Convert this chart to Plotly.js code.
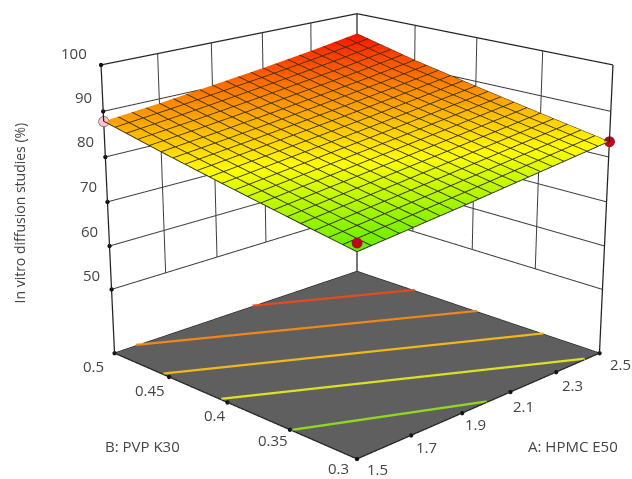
<!DOCTYPE html>
<html><head><meta charset="utf-8">
<script src="https://cdn.plot.ly/plotly-3.0.1.min.js"></script>
<style>html,body{margin:0;padding:0;background:#fff;overflow:hidden}#c{width:632px;height:479px}</style>
</head><body><div id="c"></div>
<script>
const hpmc=[1.5,1.7,1.9,2.1,2.3,2.5];
const pvp=[0.3,0.35,0.4,0.45,0.5];
const response=[
 [77.1,78.3,79.5,80.8,82.1,83.4],
 [79.6,80.9,82.2,83.5,84.8,86.1],
 [82.2,83.5,84.8,86.1,87.5,88.9],
 [84.9,86.1,87.4,88.8,90.2,91.8],
 [87.8,89.0,90.4,91.8,93.4,95.2]];
const zTicks=[50,60,70,80,90,100];
const zFloor=35, zTop=100, zLevel=35.2;
const designA=[1.5,2.5,1.5];
const designB=[0.5,0.3,0.3];
const designZ=[87.8,83.4,78.9];
const designColors=['#f7c3cf','#c4001a','#c4001a'];
const contourLines=[
 {a:[1.5,2.0],b:[0.348,0.3],color:'#8fd81e'},
 {a:[1.5,2.43],b:[0.405,0.3],color:'#dfe020'},
 {a:[1.5,2.5],b:[0.455,0.342],color:'#f0b818'},
 {a:[1.58,2.5],b:[0.5,0.395],color:'#f08818'},
 {a:[2.04,2.5],b:[0.5,0.448],color:'#e84a18'}];
const aLabels=['1.5','1.7','1.9','2.1','2.3','2.5'];
const bLabels=['0.3','0.35','0.4','0.45','0.5'];
const zLabels=['50','60','70','80','90','100'];
const aShiftX=[20,15,13,13,16,21];
const aShiftY=[-10,-12,-11,-14,-13,-11];
const bShiftX=[-19,-17,-13,-19,-21];
const bShiftY=[-9,-10,-13,-13,-13];
const zShiftX=[-20,-20,-19,-20,-20,-27];
const zShiftY=[14,15,16,16,14,12];
const aMin=1.5,aMax=2.5,bMin=0.3,bMax=0.5;

function seg(list){const x=[],y=[],z=[];list.forEach(s=>{x.push(s[0],s[3],null);y.push(s[1],s[4],null);z.push(s[2],s[5],null)});return {x,y,z};}
const gridSegs=[];
hpmc.forEach(a=>gridSegs.push([a,bMax,zTicks[0],a,bMax,zTop]));
pvp.forEach(b=>gridSegs.push([aMax,b,zTicks[0],aMax,b,zTop]));
zTicks.forEach(z=>{gridSegs.push([aMin,bMax,z,aMax,bMax,z]);gridSegs.push([aMax,bMax,z,aMax,bMin,z]);});
const frameSegs=[
 [aMin,bMax,zFloor,aMin,bMax,zTop],[aMax,bMin,zFloor,aMax,bMin,zTop],[aMax,bMax,zFloor,aMax,bMax,zTop],
 [aMin,bMin,zFloor,aMax,bMin,zFloor],[aMin,bMin,zFloor,aMin,bMax,zFloor],
 [aMin,bMax,zFloor,aMax,bMax,zFloor],[aMax,bMax,zFloor,aMax,bMin,zFloor],
 [aMin,bMax,zTop,aMax,bMax,zTop],[aMax,bMax,zTop,aMax,bMin,zTop]];
const g=seg(gridSegs), f=seg(frameSegs);
const flat={ambient:1,diffuse:0,specular:0,fresnel:0,roughness:1};
const scale=[[0,'#62ee00'],[0.33,'#ffff00'],[0.6,'#ff9c00'],[1,'#ff1000']];
const traces=[
 {type:'surface',x:[aMin,aMax],y:[bMin,bMax],z:[[zFloor,zFloor],[zFloor,zFloor]],showscale:false,
  colorscale:[[0,'#5f5f5f'],[1,'#5f5f5f']],cmin:0,cmax:100,hoverinfo:'skip',lighting:flat},
 {type:'scatter3d',mode:'lines',x:g.x,y:g.y,z:g.z,line:{color:'#3c3c3c',width:2},hoverinfo:'skip',showlegend:false},
 {type:'scatter3d',mode:'lines',x:f.x,y:f.y,z:f.z,line:{color:'#222',width:2.5},hoverinfo:'skip',showlegend:false}
];
contourLines.forEach(c=>traces.push({type:'scatter3d',mode:'lines',x:c.a,y:c.b,z:c.a.map(()=>zLevel),
  line:{color:c.color,width:5},hoverinfo:'skip',showlegend:false}));
traces.push({type:'surface',x:hpmc,y:pvp,z:response,showscale:false,cmin:77.1,cmax:95.2,
  colorscale:scale,lighting:flat,hoverinfo:'skip',
  contours:{
   x:{show:true,start:1.5,end:2.5,size:0.05,color:'#333318',width:2},
   y:{show:true,start:0.3,end:0.5,size:0.01,color:'#333318',width:2},
   z:{show:false}}});
traces.push({type:'surface',x:hpmc,y:pvp,z:response,showscale:false,cmin:77.1,cmax:95.2,hidesurface:true,
  colorscale:scale,lighting:flat,hoverinfo:'skip',
  contours:{
   x:{show:true,start:1.502,end:2.502,size:0.05,color:'#333318',width:2},
   y:{show:true,start:0.3004,end:0.5004,size:0.01,color:'#333318',width:2},
   z:{show:false}}});
traces.push({type:'scatter3d',mode:'markers',x:designA,y:designB,z:designZ,
  marker:{size:6,color:designColors,line:{color:'#7a2030',width:1},opacity:1},hoverinfo:'skip',showlegend:false});
traces.push({type:'scatter3d',mode:'markers',hoverinfo:'skip',showlegend:false,
  x:hpmc.concat(pvp.map(()=>aMin),zTicks.map(()=>aMin)),
  y:hpmc.map(()=>bMin).concat(pvp,zTicks.map(()=>bMax)),
  z:hpmc.map(()=>zFloor).concat(pvp.map(()=>zFloor),zTicks),
  marker:{size:2.5,color:'#111'}});

const font={family:'"Open Sans",sans-serif',size:15,color:'#444'};
const ann=[];
hpmc.forEach((a,i)=>ann.push({x:a,y:bMin,z:zFloor,text:aLabels[i],showarrow:false,xshift:aShiftX[i],yshift:aShiftY[i],font}));
pvp.forEach((b,i)=>ann.push({x:aMin,y:b,z:zFloor,text:bLabels[i],showarrow:false,xshift:bShiftX[i],yshift:bShiftY[i],font}));
zTicks.forEach((z,i)=>ann.push({x:aMin,y:bMax,z:z,text:zLabels[i],showarrow:false,xshift:zShiftX[i],yshift:zShiftY[i],font}));
const layout={width:632,height:479,margin:{l:0,r:0,t:0,b:0},paper_bgcolor:'#fff',showlegend:false,
 annotations:[
  {xref:'paper',yref:'paper',x:19/632,y:1-213.5/479,xanchor:'center',yanchor:'middle',text:'In vitro diffusion studies (%)',textangle:-90,showarrow:false,font:{...font,size:14}},
  {xref:'paper',yref:'paper',x:142/632,y:1-446/479,xanchor:'center',yanchor:'middle',text:'B: PVP K30',showarrow:false,font},
  {xref:'paper',yref:'paper',x:573/632,y:1-446/479,xanchor:'center',yanchor:'middle',text:'A: HPMC E50',showarrow:false,font}],
 scene:{domain:{x:[0.13,1],y:[0,1]},
  aspectmode:'manual',aspectratio:{x:1,y:1,z:0.855},
  camera:{eye:{x:-3.35,y:-3.35,z:1.522},center:{x:0,y:0,z:-0.078},up:{x:0,y:0,z:1}},
  xaxis:{range:[1.49,2.51],visible:false},yaxis:{range:[0.298,0.502],visible:false},zaxis:{range:[34.5,100.5],visible:false},
  annotations:ann}};
Plotly.newPlot('c',traces,layout,{displayModeBar:false}).then(gd=>{
  const sc=gd._fullLayout.scene._scene;
  sc.glplot.fovy=0.2664; sc.glplot.redraw();
});
</script></body></html>
